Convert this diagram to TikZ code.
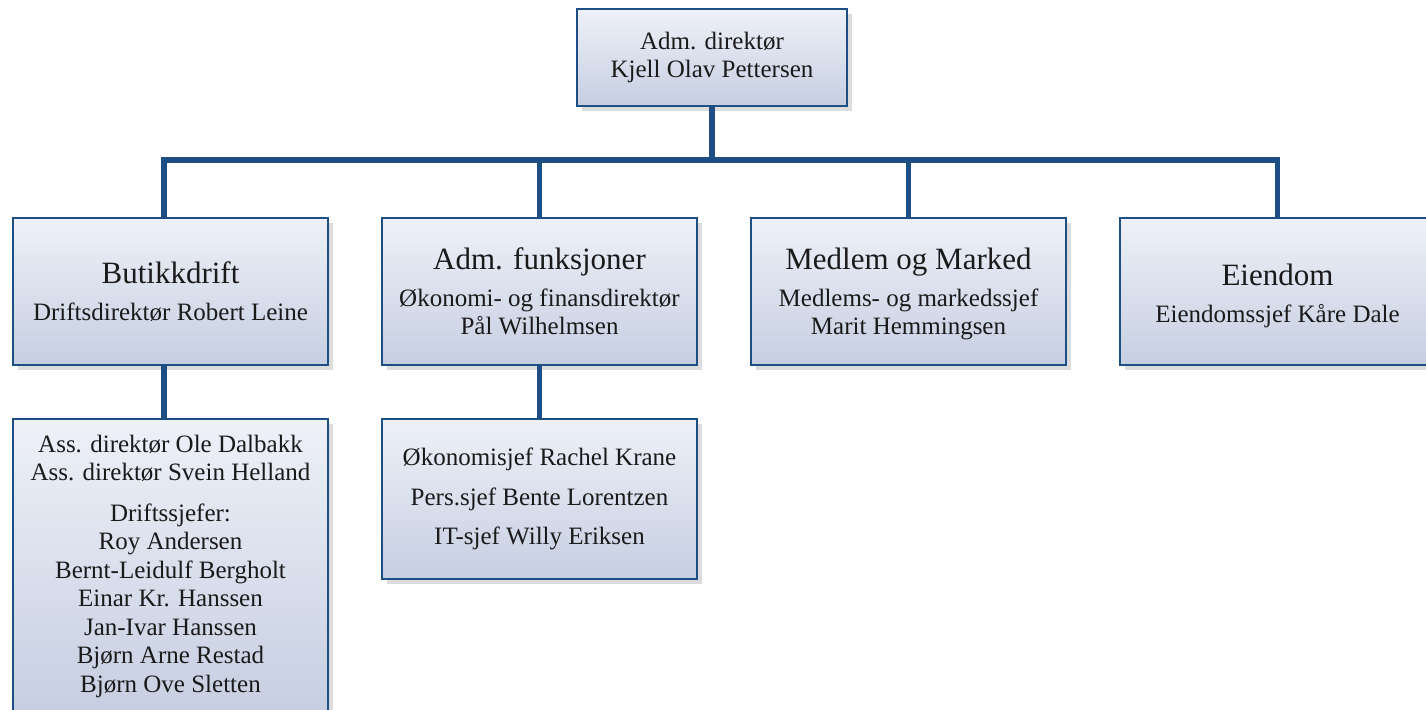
\documentclass[tikz,border=0pt]{standalone}
\usepackage{fontspec}
\setmainfont{Liberation Serif}
\usetikzlibrary{shadows}

\definecolor{orgblue}{HTML}{1D4F85}
\definecolor{boxtop}{HTML}{EEF1F8}
\definecolor{boxbot}{HTML}{C6CEE1}
\definecolor{inkgray}{HTML}{1A1A1A}
\newcommand{\unittitle}[1]{{\fontsize{15.5}{18}\selectfont #1}}

\begin{document}
\begin{tikzpicture}[x=1pt,y=1pt,node distance=184.5pt,
                    font=\fontsize{12.5}{14.25}\selectfont]
  \tikzstyle{unit}=[draw=orgblue,line width=1.4pt,top color=boxtop,bottom color=boxbot,
                    text=inkgray,align=center,inner sep=0pt,
                    minimum width=157.5pt,minimum height=73.5pt,
                    drop shadow={shadow xshift=2.5pt,shadow yshift=-2.5pt,opacity=0.3,fill=black!45}]
  \tikzstyle{link}=[draw=orgblue,line width=2.6pt]

  \clip (0,0) rectangle (713,-354.5);

  \node[unit,minimum width=135pt,minimum height=48.5pt] (ceo) at (356,-28.75)
        {Adm. direktør\\Kjell Olav Pettersen};

  \node[unit] (B) at (85.25,-145.75)
        {\unittitle{Butikkdrift}\\[4.5pt]Driftsdirektør Robert Leine};
  \node[unit] (A) [right of=B]
        {\unittitle{Adm. funksjoner}\\[4pt]Økonomi- og finansdirektør\\Pål Wilhelmsen};
  \node[unit] (M) [right of=A]
        {\rule{0pt}{13.5pt}\unittitle{Medlem og Marked}\\[4pt]Medlems- og markedssjef\\Marit Hemmingsen};
  \node[unit] (E) [right of=M]
        {\rule{0pt}{15pt}\unittitle{Eiendom}\\[4.5pt]Eiendomssjef Kåre Dale};

  \node[unit,node distance=137.25pt,minimum height=147pt] (BD) [below of=B]
        {Ass. direktør Ole Dalbakk\\Ass. direktør Svein Helland\\[6pt]
         Driftssjefer:\\Roy Andersen\\Bernt-Leidulf Bergholt\\Einar Kr. Hanssen\\
         Jan-Ivar Hanssen\\Bjørn Arne Restad\\Bjørn Ove Sletten};
  \node[unit,node distance=103.75pt,minimum height=80pt] (AD) [below of=A]
        {Økonomisjef Rachel Krane\\[5.5pt]Pers.sjef Bente Lorentzen\\[5.5pt]IT-sjef Willy Eriksen};

  % the Butikkdrift line sits a little left of the box centre
  \coordinate (Btop) at ([xshift=-3.25pt]B.north);
  \coordinate (Bbot) at ([xshift=-3.25pt]B.south);
  \coordinate (bus) at (0,-80);

  \path[link] (ceo.south) -- (ceo.south |- bus);
  \path[link] (Btop) -- (Btop |- bus) -- (E.north |- bus) -- (E.north);
  \path[link] (A.north) -- (A.north |- bus);
  \path[link] (M.north) -- (M.north |- bus);
  \path[link] (Bbot) -- (Bbot |- BD.north);
  \path[link] (A.south) -- (AD.north);
\end{tikzpicture}
\end{document}
